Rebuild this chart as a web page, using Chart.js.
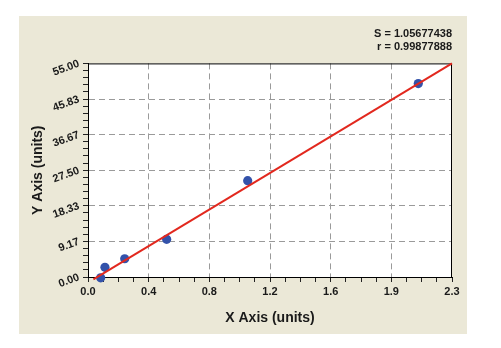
<!DOCTYPE html>
<html>
<head>
<meta charset="utf-8">
<script src="https://cdn.jsdelivr.net/npm/chart.js@4.4.0/dist/chart.umd.min.js"></script>
<style>
  html, body { margin: 0; padding: 0; background: #fff; }
</style>
</head>
<body>
<canvas id="myChart" width="501" height="348"></canvas>
<script>
// measured points
const xValues = [0.080, 0.107, 0.232, 0.497, 1.009, 2.087];
const yValues = [-0.2, 2.5, 4.7, 9.7, 24.8, 49.8];
// fitted line end points
const fitX = [0.034, 2.3];
const fitY = [-0.6, 55];
const xTickLabels = ['0.0', '0.4', '0.8', '1.2', '1.6', '1.9', '2.3'];
const yTickLabels = ['0.00', '9.17', '18.33', '27.50', '36.67', '45.83', '55.00'];
const statLines = ['S = 1.05677438', 'r = 0.99877888'];

const X_MAX = 2.3, Y_MAX = 55;
const X_MINOR = 4, Y_MINOR = 5;

Chart.defaults.font.family = "'Liberation Sans', Arial, sans-serif";
Chart.defaults.color = '#1a1a1a';

const panel = {
    id: 'panel',
    beforeDraw(chart) {
        const c = chart.ctx, a = chart.chartArea;
        c.save();
        c.fillStyle = '#fff';
        c.fillRect(0, 0, chart.width, chart.height);
        c.fillStyle = '#ebe8d7';
        c.fillRect(19, 16, 448, 318);
        c.fillStyle = '#fff';
        c.fillRect(a.left, a.top, a.right - a.left, a.bottom - a.top);
        c.restore();
    },
    beforeDatasetsDraw(chart) {
        const c = chart.ctx, a = chart.chartArea;
        c.save();
        c.strokeStyle = '#000';
        c.lineWidth = 1;
        c.strokeRect(a.left + 0.5, a.top + 0.5, a.right - a.left - 1, a.bottom - a.top);
        c.restore();
    }
};

function minorTicks(max, n, count) {
    return s => {
        s.ticks = [];
        for (let i = 0; i <= n * count; i++) s.ticks.push({ value: i * max / (n * count) });
    };
}

new Chart(document.getElementById('myChart'), {
    type: 'scatter',
    data: {
        datasets: [{
            data: fitX.map((x, i) => ({ x: x, y: fitY[i] })),
            showLine: true,
            borderColor: '#e2281e',
            borderWidth: 2,
            pointRadius: 0,
            clip: false
        }, {
            data: xValues.map((x, i) => ({ x: x, y: yValues[i] })),
            backgroundColor: '#3352aa',
            borderWidth: 0,
            pointRadius: 4.6,
            clip: false
        }]
    },
    options: {
        responsive: false,
        animation: false,
        layout: { padding: { left: 26, right: 49, top: 20, bottom: 17 } },
        plugins: {
            legend: { display: false },
            tooltip: { enabled: false },
            title: {
                display: true,
                text: statLines,
                align: 'end',
                color: '#1a1a1a',
                font: { size: 11, weight: 'bold', lineHeight: 1.2 },
                padding: { top: 7, bottom: 10 }
            }
        },
        scales: {
            x: {
                type: 'linear',
                min: 0,
                max: X_MAX,
                afterBuildTicks: minorTicks(X_MAX, X_MINOR, 6),
                afterFit: s => { s.height = 54; },
                grid: {
                    color: c => (c.index % X_MINOR === 0 && c.index > 0 && c.index < 24) ? '#9a9a9a' : 'rgba(0,0,0,0)',
                    tickColor: '#222',
                    tickLength: 5
                },
                border: { color: '#000', width: 1, dash: [6, 4] },
                ticks: {
                    autoSkip: false,
                    maxRotation: 0,
                    padding: 3,
                    font: { size: 11, weight: 'bold' },
                    callback: (v, i) => i % X_MINOR === 0 ? xTickLabels[i / X_MINOR] : ''
                },
                title: {
                    display: true,
                    text: 'X Axis (units)',
                    color: '#1a1a1a',
                    font: { size: 14, weight: 'bold' }
                }
            },
            y: {
                type: 'linear',
                min: 0,
                max: Y_MAX,
                afterBuildTicks: minorTicks(Y_MAX, Y_MINOR, 6),
                afterFit: s => { s.width = 62; },
                grid: {
                    color: c => (c.index % Y_MINOR === 0 && c.index > 0 && c.index < 30) ? '#9a9a9a' : 'rgba(0,0,0,0)',
                    tickColor: '#222',
                    tickLength: 5
                },
                border: { color: '#000', width: 1, dash: [6, 4] },
                ticks: {
                    autoSkip: false,
                    minRotation: 20,
                    maxRotation: 20,
                    padding: 4,
                    font: { size: 11, weight: 'bold' },
                    callback: (v, i) => i % Y_MINOR === 0 ? yTickLabels[i / Y_MINOR] : ''
                },
                title: {
                    display: true,
                    text: 'Y Axis (units)',
                    color: '#1a1a1a',
                    font: { size: 14, weight: 'bold' }
                }
            }
        }
    },
    plugins: [panel]
});
</script>
</body>
</html>
